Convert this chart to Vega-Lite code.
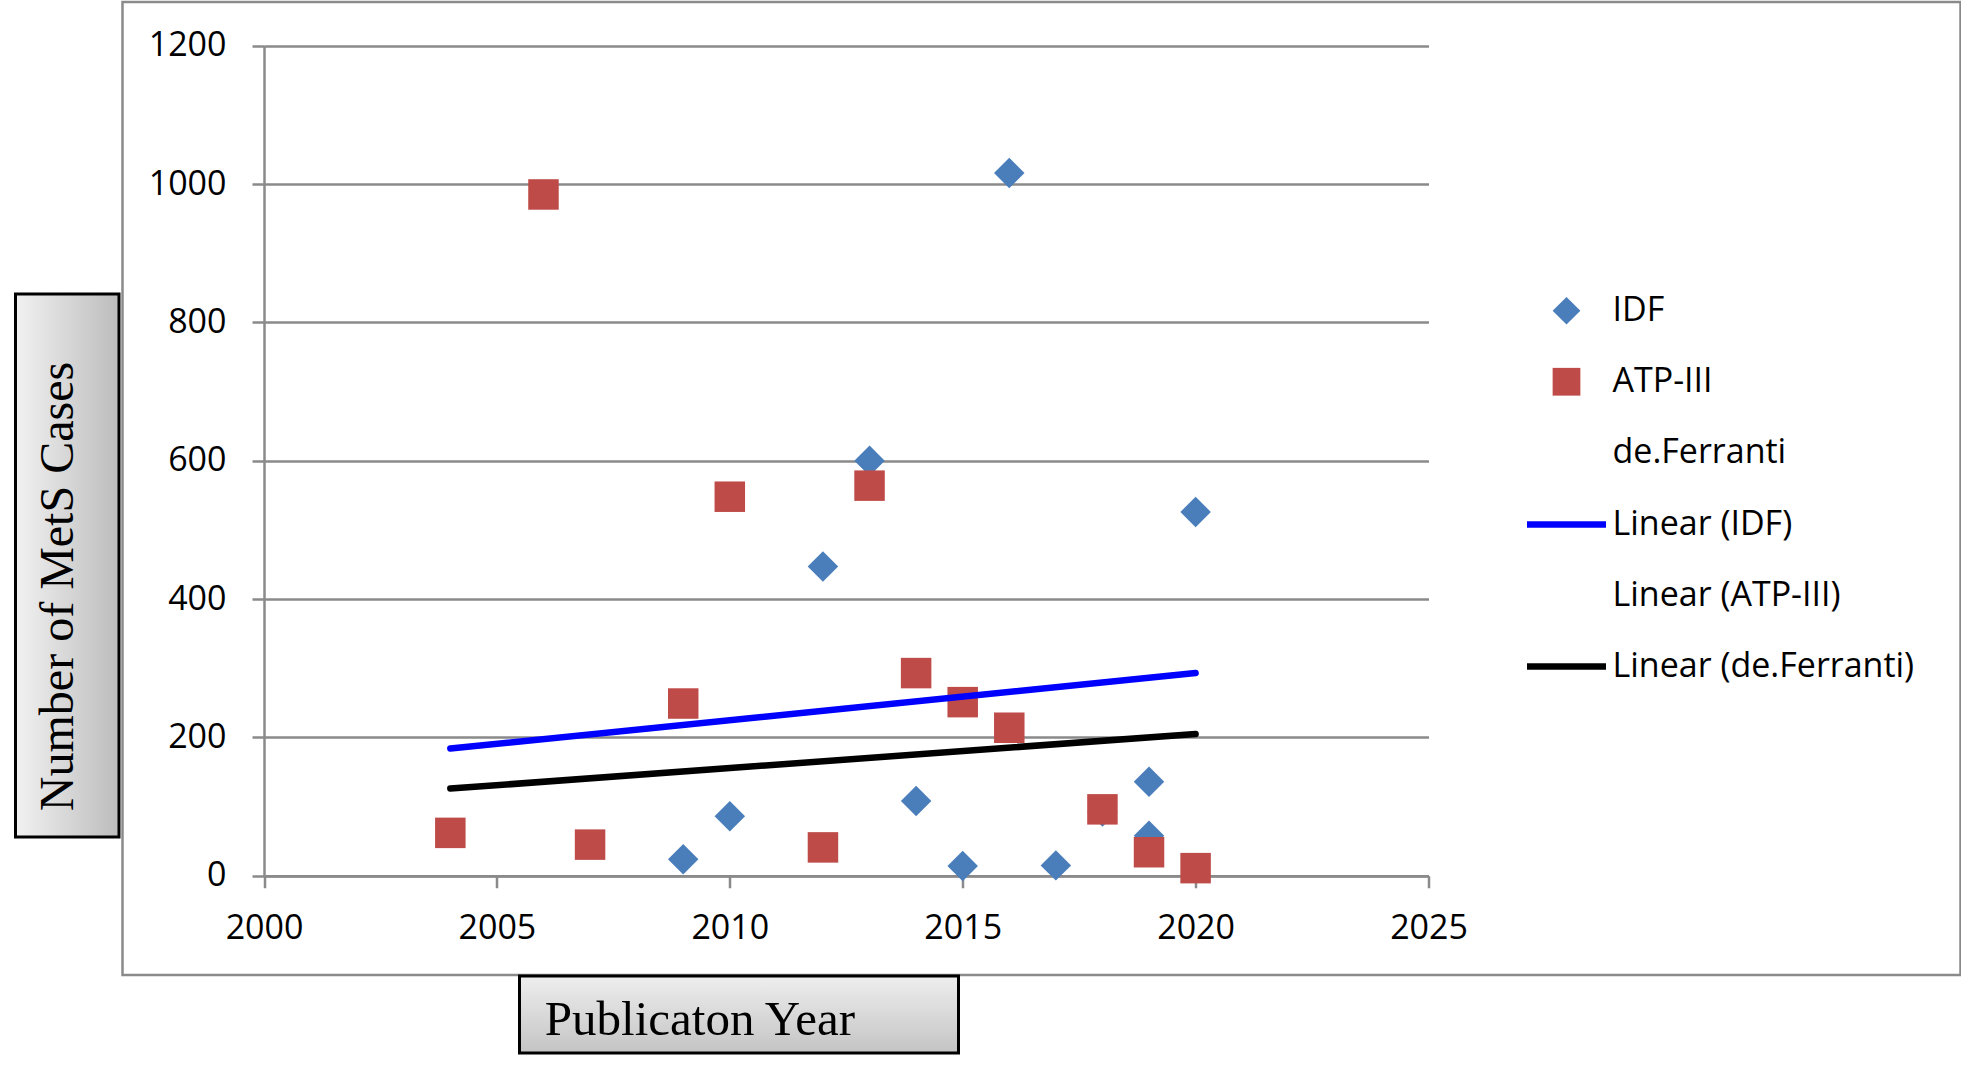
{
  "$schema": "https://vega.github.io/schema/vega-lite/v6.json",
  "background": "white",
  "padding": {"left": 13.5, "top": 0, "right": 4, "bottom": 0},
  "config": {"view": {"stroke": null}, "font": "Open Sans"},
  "bounds": "full",
  "spacing": 0,
  "hconcat": [
    {
      "spacing": 0,
      "bounds": "flush",
      "vconcat": [
        {"width": 103.5, "height": 292, "data": {"values": [{}]}, "mark": {"type": "rect", "opacity": 0}, "encoding": {}},
        {
          "width": 103.5, "height": 543,
          "data": {"values": [{}]},
          "layer": [
            {"mark": {"type": "rect", "fill": {"gradient": "linear", "x1": 0, "y1": 0, "x2": 1, "y2": 0, "stops": [{"offset": 0, "color": "#f2f2f2"}, {"offset": 1, "color": "#bcbcbc"}]}, "stroke": "#000000", "strokeWidth": 3}, "encoding": {}},
            {"mark": {"type": "text", "text": "Number of MetS Cases", "angle": 270, "font": "Liberation Serif", "fontSize": 48, "color": "#000000", "align": "center", "baseline": "middle", "dx": -21, "dy": -8}, "encoding": {}}
          ]
        }
      ]
    },
    {
      "spacing": 1,
      "bounds": "flush",
      "vconcat": [
        {
          "width": 1838, "height": 973,
          "view": {"stroke": "#8a8a8a", "strokeWidth": 2.5},
          "layer": [
            {
              "data": {"values": [
                {"series": "IDF", "year": 2009, "cases": 24},
                {"series": "IDF", "year": 2010, "cases": 86},
                {"series": "IDF", "year": 2012, "cases": 447},
                {"series": "IDF", "year": 2013, "cases": 600},
                {"series": "IDF", "year": 2014, "cases": 108},
                {"series": "IDF", "year": 2015, "cases": 14},
                {"series": "IDF", "year": 2016, "cases": 1016},
                {"series": "IDF", "year": 2017, "cases": 15},
                {"series": "IDF", "year": 2018, "cases": 93},
                {"series": "IDF", "year": 2019, "cases": 136},
                {"series": "IDF", "year": 2019, "cases": 58},
                {"series": "IDF", "year": 2020, "cases": 526},
                {"series": "ATP-III", "year": 2004, "cases": 62},
                {"series": "ATP-III", "year": 2006, "cases": 985},
                {"series": "ATP-III", "year": 2007, "cases": 45},
                {"series": "ATP-III", "year": 2009, "cases": 249},
                {"series": "ATP-III", "year": 2010, "cases": 548},
                {"series": "ATP-III", "year": 2012, "cases": 41},
                {"series": "ATP-III", "year": 2013, "cases": 564},
                {"series": "ATP-III", "year": 2014, "cases": 293},
                {"series": "ATP-III", "year": 2015, "cases": 251},
                {"series": "ATP-III", "year": 2016, "cases": 214},
                {"series": "ATP-III", "year": 2018, "cases": 96},
                {"series": "ATP-III", "year": 2019, "cases": 34},
                {"series": "ATP-III", "year": 2020, "cases": 11}
              ]},
              "mark": {"type": "point", "filled": true, "size": 930, "opacity": 1, "strokeWidth": 0},
              "encoding": {
                "x": {
                  "field": "year", "type": "quantitative",
                  "scale": {"domain": [2000, 2025], "range": [141.5, 1306], "nice": false, "zero": false},
                  "axis": {
                    "orient": "bottom", "offset": -99.25, "title": null, "grid": false,
                    "values": [2000, 2005, 2010, 2015, 2020, 2025], "format": "d",
                    "labelFont": "Open Sans", "labelFontSize": 34, "labelColor": "#000000",
                    "labelPadding": 24, "labelFlush": false, "labelOverlap": false,
                    "domainColor": "#8a8a8a", "domainWidth": 2.5,
                    "tickColor": "#8a8a8a", "tickWidth": 2.5, "tickSize": 12
                  }
                },
                "y": {
                  "field": "cases", "type": "quantitative",
                  "scale": {"domain": [0, 1200], "range": [873.75, 43.75], "nice": false, "zero": false},
                  "axis": {
                    "orient": "left", "offset": -141.5, "title": null, "grid": true,
                    "values": [0, 200, 400, 600, 800, 1000, 1200], "format": "d",
                    "gridColor": "#8a8a8a", "gridWidth": 2.5,
                    "labelFont": "Open Sans", "labelFontSize": 34, "labelColor": "#000000",
                    "labelPadding": 26, "labelOverlap": false,
                    "domainColor": "#8a8a8a", "domainWidth": 2.5,
                    "tickColor": "#8a8a8a", "tickWidth": 2.5, "tickSize": 12
                  }
                },
                "fill": {
                  "field": "series", "type": "nominal",
                  "scale": {"domain": ["IDF", "ATP-III", "de.Ferranti"], "range": ["#4A7EBB", "#BE4B48", "transparent"]},
                  "legend": {
                    "orient": "none", "legendX": 1534, "legendY": 291.75, "padding": 0, "title": null,
                    "direction": "vertical",
                    "labelFont": "Open Sans", "labelFontSize": 34, "labelColor": "#000000", "labelLimit": 600,
                    "labelOffset": 29, "rowPadding": 37, "symbolOffset": 0,
                    "symbolSize": 770, "symbolStrokeWidth": 0, "symbolOpacity": 1
                  }
                },
                "shape": {
                  "field": "series", "type": "nominal",
                  "scale": {"domain": ["IDF", "ATP-III", "de.Ferranti"], "range": ["diamond", "square", "circle"]},
                  "legend": {
                    "orient": "none", "legendX": 1534, "legendY": 291.75, "padding": 0, "title": null,
                    "direction": "vertical",
                    "labelFont": "Open Sans", "labelFontSize": 34, "labelColor": "#000000", "labelLimit": 600,
                    "labelOffset": 29, "rowPadding": 37, "symbolOffset": 0,
                    "symbolSize": 770, "symbolStrokeWidth": 0, "symbolOpacity": 1
                  }
                }
              }
            },
            {
              "data": {"values": [
                {"series": "Linear (IDF)", "year": 2004, "cases": 184},
                {"series": "Linear (IDF)", "year": 2020, "cases": 293},
                {"series": "Linear (de.Ferranti)", "year": 2004, "cases": 126},
                {"series": "Linear (de.Ferranti)", "year": 2020, "cases": 205}
              ]},
              "mark": {"type": "line", "strokeWidth": 6.5, "strokeCap": "round"},
              "encoding": {
                "x": {"field": "year", "type": "quantitative"},
                "y": {"field": "cases", "type": "quantitative"},
                "stroke": {
                  "field": "series", "type": "nominal",
                  "scale": {"domain": ["Linear (IDF)", "Linear (ATP-III)", "Linear (de.Ferranti)"], "range": ["#0000FF", "transparent", "#000000"]},
                  "legend": {
                    "orient": "none", "legendX": 1508, "legendY": 479.5, "padding": 0, "title": null,
                    "direction": "vertical", "symbolType": "stroke",
                    "labelFont": "Open Sans", "labelFontSize": 34, "labelColor": "#000000", "labelLimit": 600,
                    "labelOffset": 3, "rowPadding": 11, "symbolOffset": 0,
                    "symbolSize": 6241, "symbolStrokeWidth": 6.5, "symbolOpacity": 1
                  }
                }
              }
            }
          ]
        },
        {
          "spacing": 0,
          "bounds": "flush",
          "hconcat": [
            {"width": 397, "height": 77, "data": {"values": [{}]}, "mark": {"type": "rect", "opacity": 0}, "encoding": {}},
            {
              "width": 439, "height": 77,
              "data": {"values": [{}]},
              "layer": [
                {"mark": {"type": "rect", "fill": {"gradient": "linear", "x1": 0, "y1": 0, "x2": 0, "y2": 1, "stops": [{"offset": 0, "color": "#eeeeee"}, {"offset": 1, "color": "#c4c4c4"}]}, "stroke": "#000000", "strokeWidth": 3}, "encoding": {}},
                {"mark": {"type": "text", "text": "Publicaton Year", "font": "Liberation Serif", "fontSize": 49, "color": "#000000", "align": "center", "baseline": "middle", "dx": -39, "dy": 5}, "encoding": {}}
              ]
            }
          ]
        }
      ]
    }
  ]
}
